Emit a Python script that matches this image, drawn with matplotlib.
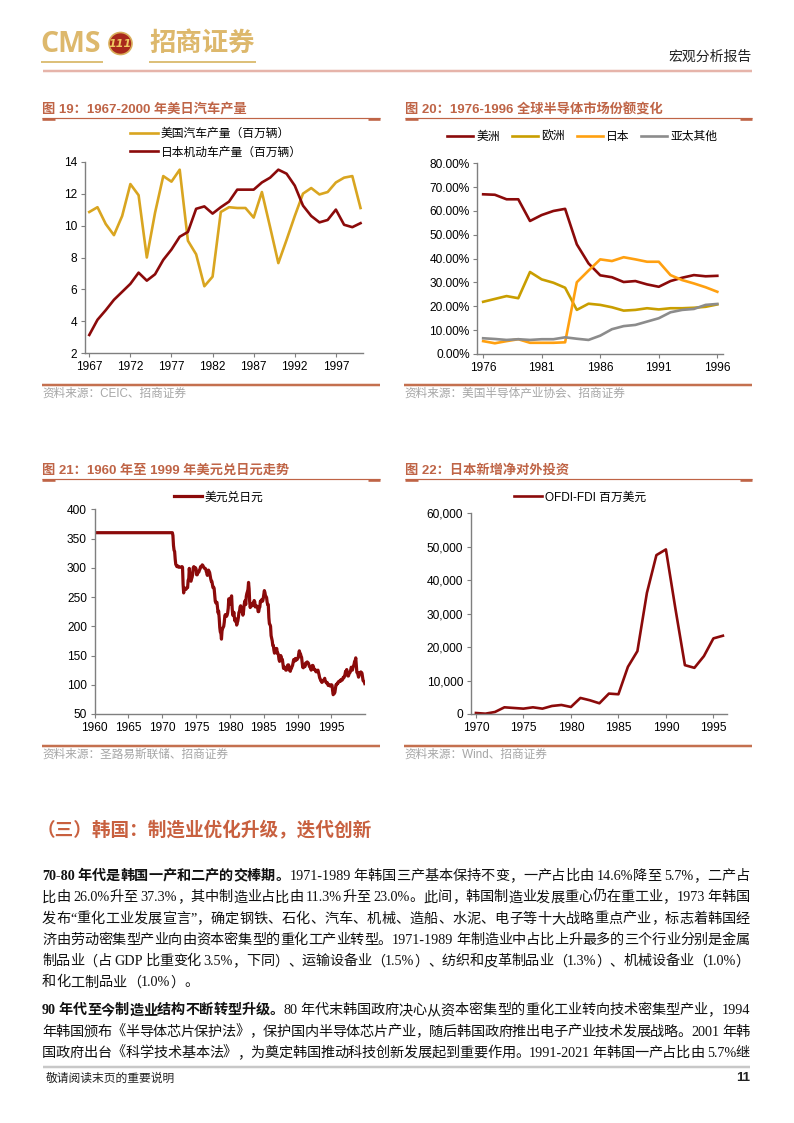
import re
import numpy as np
import matplotlib
matplotlib.use('Agg')
import matplotlib.pyplot as plt
from matplotlib.lines import Line2D
from matplotlib.patches import Ellipse
from matplotlib.ticker import PercentFormatter, FuncFormatter

plt.rcParams['font.family'] = ['Liberation Sans', 'Noto Sans CJK SC']

W, H = 794, 1123

# ---- 图19 美日汽车产量（百万辆）
auto_years = list(range(1967, 2001))
us_auto = [10.85, 11.15, 10.1, 9.4, 10.6, 12.6, 11.9, 8.0, 10.8, 13.1,
           12.75, 13.5, 9.05, 8.2, 6.2, 6.8, 10.85, 11.15, 11.1, 11.1,
           10.5, 12.1, 9.9, 7.65, 9.1, 10.6, 12.0, 12.35, 11.95, 12.1,
           12.7, 13.0, 13.1, 11.1]
jp_auto = [3.15, 4.1, 4.7, 5.35, 5.85, 6.35, 7.05, 6.55, 6.95, 7.85,
           8.5, 9.3, 9.6, 11.05, 11.2, 10.75, 11.15, 11.5, 12.25, 12.25,
           12.25, 12.7, 13.0, 13.5, 13.25, 12.5, 11.25, 10.6, 10.2, 10.35,
           11.0, 10.05, 9.9, 10.15]
auto_labels = ['美国汽车产量（百万辆）', '日本机动车产量（百万辆）']

# ---- 图20 全球半导体市场份额
semi_years = list(range(1976, 1997))
americas = [0.670, 0.668, 0.649, 0.649, 0.558, 0.583, 0.600, 0.609, 0.460, 0.380,
            0.330, 0.322, 0.302, 0.306, 0.292, 0.282, 0.306, 0.320, 0.331, 0.326, 0.328]
europe = [0.219, 0.231, 0.243, 0.234, 0.344, 0.313, 0.299, 0.278, 0.185, 0.211,
          0.206, 0.196, 0.182, 0.185, 0.192, 0.187, 0.192, 0.192, 0.194, 0.198, 0.208]
japan = [0.054, 0.045, 0.054, 0.062, 0.047, 0.047, 0.047, 0.049, 0.301, 0.350,
         0.397, 0.390, 0.406, 0.397, 0.387, 0.387, 0.331, 0.310, 0.296, 0.280, 0.261]
asia_other = [0.066, 0.063, 0.059, 0.062, 0.059, 0.062, 0.062, 0.070, 0.064, 0.059,
              0.077, 0.104, 0.117, 0.122, 0.136, 0.150, 0.175, 0.185, 0.189, 0.206, 0.210]
semi_labels = ['美洲', '欧洲', '日本', '亚太其他']

# ---- 图21 美元兑日元（1960-1971年中为固定汇率360，其后为月度值）
fx_fixed_years = [1960.0]
fx_fixed_vals = [360]
fx_start = 1971
usdjpy = [
    360, 360, 360, 360, 360, 360, 360, 355, 338, 330, 328, 315,   # 1971
    306, 304, 302, 303, 303, 301, 301, 301, 301, 301, 301, 302,   # 1972
    301, 272, 257, 265, 264, 265, 263, 265, 266, 266, 279, 280,   # 1973
    299, 288, 278, 277, 281, 284, 289, 300, 302, 300, 300, 300,   # 1974
    298, 288, 288, 293, 292, 293, 296, 298, 302, 302, 303, 305,   # 1975
    304, 302, 300, 299, 299, 298, 294, 291, 287, 293, 296, 294,   # 1976
    292, 286, 281, 277, 277, 272, 266, 267, 265, 254, 243, 240,   # 1977
    241, 241, 232, 223, 226, 214, 198, 190, 189, 178, 192, 196,   # 1978
    198, 200, 207, 218, 220, 218, 217, 219, 223, 231, 247, 240,   # 1979
    238, 245, 249, 252, 231, 219, 220, 224, 214, 209, 213, 210,   # 1980
    202, 206, 209, 215, 224, 225, 233, 235, 230, 232, 223, 219,   # 1981
    224, 235, 241, 244, 237, 251, 256, 259, 263, 275, 264, 242,   # 1982
    232, 236, 238, 238, 235, 240, 241, 244, 242, 233, 235, 235,   # 1983
    234, 233, 225, 225, 231, 233, 243, 242, 245, 246, 243, 247,   # 1984
    254, 261, 258, 252, 251, 249, 241, 237, 237, 215, 204, 203,   # 1985
    200, 184, 179, 175, 167, 167, 159, 154, 155, 156, 162, 162,   # 1986
    154, 154, 151, 143, 140, 144, 150, 147, 143, 143, 135, 128,   # 1987
    128, 130, 128, 125, 125, 127, 133, 134, 134, 129, 124, 123,   # 1988
    127, 128, 131, 133, 138, 143, 140, 141, 145, 142, 144, 143,   # 1989
    145, 146, 153, 158, 154, 153, 149, 147, 139, 130, 129, 133,   # 1990
    134, 131, 137, 137, 138, 139, 138, 137, 134, 131, 130, 128,   # 1991
    125, 128, 133, 133, 131, 126, 126, 126, 123, 122, 124, 124,   # 1992
    125, 121, 117, 112, 110, 107, 107, 104, 105, 107, 108, 109,   # 1993
    111, 106, 105, 103, 104, 103, 99, 100, 99, 98, 98, 100,       # 1994
    100, 99, 90, 83, 85, 85, 87, 94, 100, 100, 102, 102,          # 1995
    105, 105, 106, 107, 106, 109, 109, 108, 110, 113, 112, 114,   # 1996
    118, 123, 122, 126, 119, 115, 115, 118, 121, 121, 125, 130,   # 1997
    129, 125, 129, 132, 135, 140, 141, 146, 134, 121, 121, 117,   # 1998
    113, 117, 120, 120, 122, 120, 120, 114, 107, 106, 105, 102,   # 1999
]

# ---- 图22 日本新增净对外投资（百万美元）
fdi_years = list(range(1970, 1997))
ofdi_fdi = [300, 100, 600, 2000, 1800, 1600, 2000, 1600, 2400, 2700,
            2100, 4800, 4100, 3200, 6100, 5900, 14100, 18800, 36200, 47500,
            49200, 31500, 14600, 13800, 17300, 22600, 23400]

GOLD = '#D9A520'
DARK_RED = '#8B0A0A'
TITLE_C = '#BF6446'
SRC_LINE = '#C4704F'
AXIS_C = '#7F7F7F'
CJK = ['Noto Sans CJK SC', 'DejaVu Sans']
BODY = ['Liberation Serif', 'Noto Sans CJK SC']

fig = plt.figure(figsize=(W / 100, H / 100), dpi=100)


def fx(px):
    return px / W


def fy(py):
    return 1 - py / H


def hline(x0, x1, y, color, lw):
    fig.add_artist(Line2D([fx(x0), fx(x1)], [fy(y), fy(y)], transform=fig.transFigure,
                          color=color, lw=lw * 0.72, solid_capstyle='butt'))


def add_ax(l, t, r, b):
    ax = fig.add_axes([fx(l), fy(b), (r - l) / W, (b - t) / H])
    for s in ['top', 'right']:
        ax.spines[s].set_visible(False)
    for s in ['left', 'bottom']:
        ax.spines[s].set_color(AXIS_C)
        ax.spines[s].set_linewidth(1.0)
    ax.tick_params(axis='both', length=3, width=0.8, color=AXIS_C, labelsize=8.6, pad=2.5)
    ax.patch.set_alpha(0)
    return ax


def chart_title(x0, x1, y, text):
    fig.text(fx(x0), fy(y), text, fontsize=9.5, weight='bold', color=TITLE_C, va='center', ha='left')
    hline(x0, x1, y + 8.5, TITLE_C, 1.2)
    hline(x0, x0 + 13, y + 9.3, TITLE_C, 2.6)
    hline(x1 - 12, x1, y + 9.3, TITLE_C, 2.6)


def source(x0, x1, y_line, text):
    hline(x0, x1, y_line, SRC_LINE, 2.5)
    fig.text(fx(x0), fy(y_line + 9), text, fontsize=8.4, color='#A6A6A6', va='center')


leg_font = {'family': ['Liberation Sans', 'Noto Sans CJK SC'], 'size': 8.5}

# ---------------- header
fig.text(fx(40), fy(44), 'CMS', fontsize=20.5, weight='bold', family='Open Sans', color='#DDB86C', va='center')
fig.add_artist(Ellipse((fx(120.5), fy(43.5)), 23 / W, 22 / H, transform=fig.transFigure,
                       facecolor='#A8281C', edgecolor='#D9AE5A', lw=1.2))
fig.text(fx(120.5), fy(44), '111', fontsize=8, weight='bold', style='italic', color='#F0C860',
         ha='center', va='center', family='DejaVu Sans')
fig.text(fx(149), fy(43.5), '招商证券', fontsize=19, weight='bold', family=CJK, color='#DDB86C', va='center')
hline(41, 103, 61.5, '#DDC07A', 2)
hline(149, 256, 61.5, '#DDC07A', 2)
hline(43, 752, 71, '#E6B4AA', 2.5)
fig.text(fx(752), fy(57), '宏观分析报告', fontsize=10, family=CJK, color='#222222', ha='right', va='center')

# ---------------- 图19
chart_title(42, 380, 110, '图 19：1967-2000 年美日汽车产量')
ax1 = add_ax(85, 161.7, 363, 353.3)
ax1.plot(auto_years, us_auto, color=GOLD, lw=1.9, label=auto_labels[0])
ax1.plot(auto_years, jp_auto, color=DARK_RED, lw=1.9, label=auto_labels[1])
ax1.set_xlim(1966.48, 2000.3)
ax1.set_ylim(2, 14)
ax1.set_yticks(range(2, 15, 2))
ax1.set_xticks(range(1967, 2001, 5))
ax1.legend(loc='upper left', bbox_to_anchor=(fx(130), fy(128)), bbox_transform=fig.transFigure,
           frameon=False, prop=leg_font, handlelength=2.4, handletextpad=0.2, labelspacing=0.55,
           borderaxespad=0, borderpad=0)
source(42, 380, 385, '资料来源：CEIC、招商证券')

# ---------------- 图20
chart_title(405, 752, 110, '图 20：1976-1996 全球半导体市场份额变化')
ax2 = add_ax(477.3, 163.3, 722.7, 354)
for vals, c, lab in zip([americas, europe, japan, asia_other],
                        [DARK_RED, '#C99E00', '#FFA010', '#8C8C8C'], semi_labels):
    ax2.plot(semi_years, vals, color=c, lw=1.9, label=lab)
ax2.set_xlim(1975.5, 1996.46)
ax2.set_ylim(0, 0.8)
ax2.set_yticks(np.arange(0, 0.81, 0.1))
ax2.yaxis.set_major_formatter(PercentFormatter(xmax=1, decimals=2))
ax2.set_xticks(range(1976, 1997, 5))
ax2.legend(loc='upper left', bbox_to_anchor=(fx(447), fy(131)), bbox_transform=fig.transFigure,
           frameon=False, prop=leg_font, ncol=4, handlelength=2.2, handletextpad=0.3,
           columnspacing=1.0, borderaxespad=0, borderpad=0)
source(404, 752, 385, '资料来源：美国半导体产业协会、招商证券')

# ---------------- 图21
chart_title(42, 380, 470.7, '图 21：1960 年至 1999 年美元兑日元走势')
ax3 = add_ax(94.5, 509.3, 365, 714)
fx_years = fx_fixed_years + list(fx_start + np.arange(len(usdjpy)) / 12)
fx_vals = fx_fixed_vals + usdjpy
ax3.plot(fx_years, fx_vals, color=DARK_RED, lw=2.3, label='美元兑日元')
ax3.set_xlim(1960, 1999.95)
ax3.set_ylim(50, 400)
ax3.set_yticks(range(50, 401, 50))
ax3.set_xticks(range(1960, 1999, 5))
ax3.legend(loc='upper left', bbox_to_anchor=(fx(174), fy(491.5)), bbox_transform=fig.transFigure,
           frameon=False, prop=leg_font, handlelength=2.4, handletextpad=0.2,
           borderaxespad=0, borderpad=0)
source(42, 380, 745.5, '资料来源：圣路易斯联储、招商证券')

# ---------------- 图22
chart_title(405, 752, 470.7, '图 22：日本新增净对外投资')
ax4 = add_ax(470.7, 513.3, 726.7, 714)
ax4.plot(fdi_years, ofdi_fdi, color=DARK_RED, lw=1.9, label='OFDI-FDI 百万美元')
ax4.set_xlim(1969.45, 1996.4)
ax4.set_ylim(0, 60000)
ax4.set_yticks(range(0, 60001, 10000))
ax4.yaxis.set_major_formatter(FuncFormatter(lambda v, p: '{:,.0f}'.format(v)))
ax4.set_xticks(range(1970, 1997, 5))
ax4.legend(loc='upper left', bbox_to_anchor=(fx(514), fy(491.5)), bbox_transform=fig.transFigure,
           frameon=False, prop=leg_font, handlelength=2.4, handletextpad=0.2,
           borderaxespad=0, borderpad=0)
source(404, 752, 745.5, '资料来源：Wind、招商证券')

# ---------------- 正文
fig.text(fx(37), fy(830.7), '（三）韩国：制造业优化升级，迭代创新', fontsize=13.4, weight='bold',
         family=CJK, color='#C8603F', va='center')

para1 = [
    [('70-80 年代是韩国一产和二产的交棒期。', True),
     ('1971-1989 年韩国三产基本保持不变，一产占比由 14.6%降至 5.7%，二产占', False)],
    [('比由 26.0%升至 37.3%，其中制造业占比由 11.3%升至 23.0%。此间，韩国制造业发展重心仍在重工业，1973 年韩国', False)],
    [('发布“重化工业发展宣言”，确定钢铁、石化、汽车、机械、造船、水泥、电子等十大战略重点产业，标志着韩国经', False)],
    [('济由劳动密集型产业向由资本密集型的重化工产业转型。1971-1989 年制造业中占比上升最多的三个行业分别是金属', False)],
    [('制品业（占 GDP 比重变化 3.5%，下同）、运输设备业（1.5%）、纺织和皮革制品业（1.3%）、机械设备业（1.0%）', False)],
    [('和化工制品业（1.0%）。', False)],
]
para2 = [
    [('90 年代至今制造业结构不断转型升级。', True),
     ('80 年代末韩国政府决心从资本密集型的重化工业转向技术密集型产业，1994', False)],
    [('年韩国颁布《半导体芯片保护法》，保护国内半导体芯片产业，随后韩国政府推出电子产业技术发展战略。2001 年韩', False)],
    [('国政府出台《科学技术基本法》，为奠定韩国推动科技创新发展起到重要作用。1991-2021 年韩国一产占比由 5.7%继', False)],
]

renderer = fig.canvas.get_renderer()
FS = 10.2


def draw_line(segs, yc, justify=True, x0=42, x1=750):
    items = []
    for s, b in segs:
        for tk in re.findall(r'[A-Za-z0-9.%\-]+|\s|.', s):
            if tk == ' ':
                items.append((None, FS * 0.3))
                continue
            t = fig.text(0, fy(yc + 5), tk, fontsize=FS, family=BODY,
                         weight='bold' if b else 'normal', va='baseline', ha='left', color='#111111')
            items.append((t, t.get_window_extent(renderer).width))
    total = sum(w for _, w in items)
    gap = (x1 - x0 - total) / (len(items) - 1) if justify else 0
    x = x0
    for t, w in items:
        if t is not None:
            t.set_x(fx(x))
        x += w + gap


y = 875
for i, line in enumerate(para1):
    draw_line(line, y, justify=(i < len(para1) - 1))
    y += 21.3
y = 1009.3
for line in para2:
    draw_line(line, y)
    y += 21.3

hline(43, 750, 1067, '#C8C8C8', 2.5)
fig.text(fx(46), fy(1078), '敬请阅读末页的重要说明', fontsize=8.5, family=CJK, color='#222222', va='center')
fig.text(fx(750), fy(1078), '11', fontsize=9.5, weight='bold', color='#222222', va='center', ha='right')

fig.savefig('out.png', dpi=100)
